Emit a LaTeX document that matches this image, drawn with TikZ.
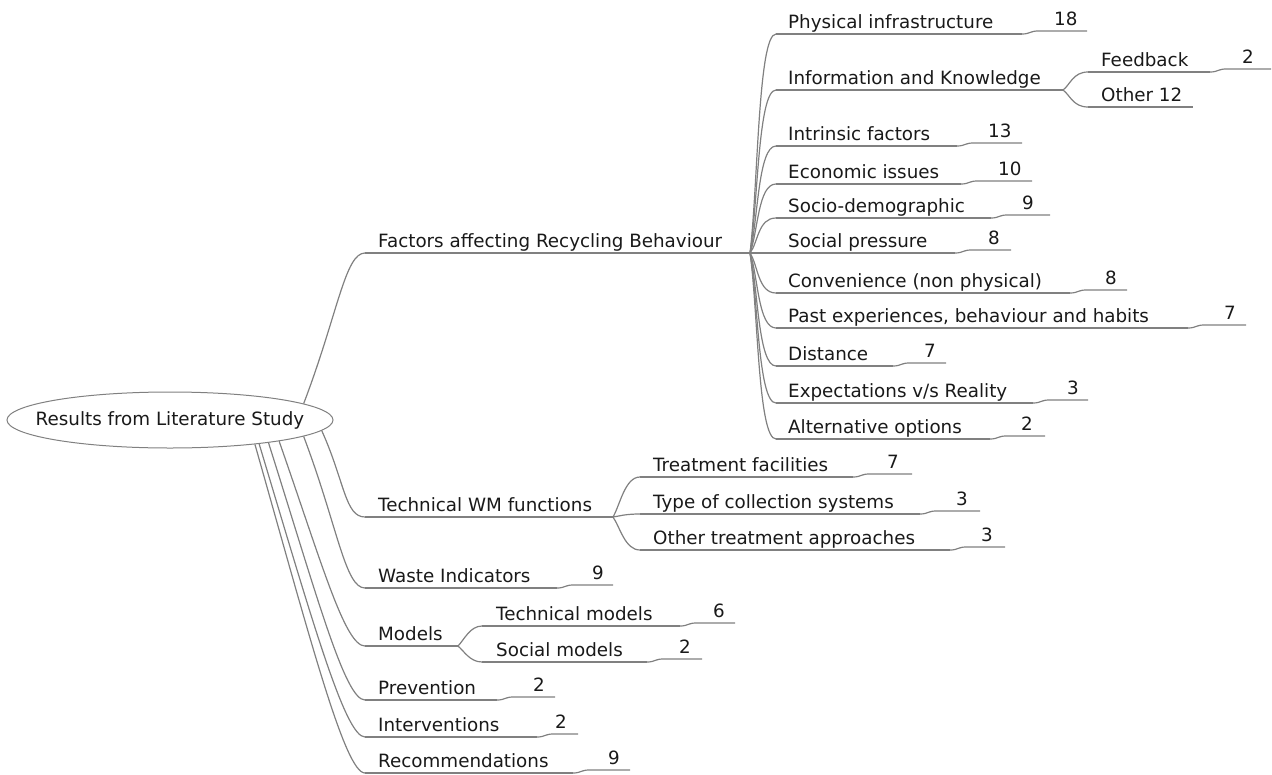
\documentclass[tikz,border=0pt]{standalone}
\usepackage{fontspec}
\setmainfont{DejaVu Sans}
\usetikzlibrary{shapes.geometric}
\definecolor{branch}{RGB}{128,128,128}
\definecolor{ink}{RGB}{25,25,25}
\tikzset{
  edge/.style={draw=branch, line width=1.2pt},
  topic/.style={anchor=base west, inner sep=0pt, text=ink, font=\fontsize{18.3}{22}\selectfont},
  rootnode/.style={ellipse, draw=branch, line width=1pt, inner sep=0pt,
    minimum width=326pt, minimum height=56pt, text=ink, font=\fontsize{18.3}{22}\selectfont},
}
% #1 name, #2 underline start x, #3 text x, #4 underline y, #5 underline end x, #6 label
\newcommand\mmtopic[6]{%
  \coordinate (#1-s) at (#2,#4);
  \coordinate (#1-e) at (#5,#4);
  \node[topic] (#1) at (#3,#4-6) {#6};
  \draw[edge] (#1-s) -- (#1-e);
}
% #1 parent name, #2 parent underline y, #3 parent end x, #4 count x, #5 line end x, #6 count
\newcommand\mmcount[6]{%
  \coordinate (#1-ns) at (#3+16,#2-3);
  \coordinate (#1-ne) at (#5,#2-3);
  \node[topic] (#1-n) at (#4,#2-9) {#6};
  \draw[edge] (#1-e) .. controls +(8,0) and +(-8,0) .. (#1-ns) -- (#1-ne);
}
% #1 from, #2 to, #3 #4 first control offset, #5 second control x offset
\newcommand\mmedge[5]{%
  \draw[edge] (#1) .. controls +(#3,#4) and +(#5,0) .. (#2);
}
\begin{document}
\begin{tikzpicture}[x=1pt,y=-1pt]
\useasboundingbox (0,0) rectangle (1272,774);

% central topic
\node[rootnode] (root) at (170,420) {\makebox[0pt]{Results from Literature Study}};

% first level
\mmtopic{fac}{365}{378}{253}{750}{Factors affecting Recycling Behaviour}
\mmtopic{tec}{365}{378}{517}{613}{Technical WM functions}
\mmtopic{was}{365}{378}{588}{557}{Waste Indicators}
\mmcount{was}{588}{557}{592}{613}{9}
\mmtopic{mod}{365}{378}{646}{458}{Models}
\mmtopic{pre}{365}{378}{700}{497}{Prevention}
\mmcount{pre}{700}{497}{533}{555}{2}
\mmtopic{int}{365}{378}{737}{537}{Interventions}
\mmcount{int}{737}{537}{555}{578}{2}
\mmtopic{rec}{365}{378}{773}{573}{Recommendations}
\mmcount{rec}{773}{573}{608}{630}{9}

\mmedge{root.7.9}{fac-s}{34}{-89}{-20}
\mmedge{root.-4.5}{tec-s}{23}{51}{-20}
\mmedge{root.-7.9}{was-s}{34}{90}{-20}
\mmedge{root.-11}{mod-s}{43}{123}{-20}
\mmedge{root.-13.1}{pre-s}{49}{155}{-20}
\mmedge{root.-15}{int-s}{53}{176}{-20}
\mmedge{root.-16.4}{rec-s}{56}{197}{-20}

% factors affecting recycling behaviour
\mmtopic{phy}{776}{788}{34}{1022}{Physical infrastructure}
\mmcount{phy}{34}{1022}{1054}{1087}{18}
\mmtopic{inf}{776}{788}{90}{1063}{Information and Knowledge}
\mmtopic{intr}{776}{788}{146}{957}{Intrinsic factors}
\mmcount{intr}{146}{957}{988}{1022}{13}
\mmtopic{eco}{776}{788}{184}{961}{Economic issues}
\mmcount{eco}{184}{961}{998}{1032}{10}
\mmtopic{soc}{776}{788}{218}{991}{Socio-demographic}
\mmcount{soc}{218}{991}{1022}{1050}{9}
\mmtopic{pres}{776}{788}{253}{955}{Social pressure}
\mmcount{pres}{253}{955}{988}{1011}{8}
\mmtopic{conv}{776}{788}{293}{1070}{Convenience (non physical)}
\mmcount{conv}{293}{1070}{1105}{1127}{8}
\mmtopic{past}{776}{788}{328}{1188}{Past experiences, behaviour and habits}
\mmcount{past}{328}{1188}{1224}{1246}{7}
\mmtopic{dist}{776}{788}{366}{893}{Distance}
\mmcount{dist}{366}{893}{924}{946}{7}
\mmtopic{expe}{776}{788}{403}{1033}{Expectations v/s Reality}
\mmcount{expe}{403}{1033}{1067}{1088}{3}
\mmtopic{alt}{776}{788}{439}{990}{Alternative options}
\mmcount{alt}{439}{990}{1021}{1045}{2}

\mmedge{fac-e}{phy-s}{8}{-66}{-18}
\mmedge{fac-e}{inf-s}{8}{-49}{-18}
\mmedge{fac-e}{intr-s}{8}{-32}{-18}
\mmedge{fac-e}{eco-s}{8}{-21}{-18}
\mmedge{fac-e}{soc-s}{8}{-10}{-18}
\mmedge{fac-e}{pres-s}{8}{0}{-18}
\mmedge{fac-e}{conv-s}{8}{12}{-18}
\mmedge{fac-e}{past-s}{8}{22}{-18}
\mmedge{fac-e}{dist-s}{8}{34}{-18}
\mmedge{fac-e}{expe-s}{8}{45}{-18}
\mmedge{fac-e}{alt-s}{8}{56}{-18}

% information and knowledge
\mmtopic{feed}{1088}{1101}{72}{1210}{Feedback}
\mmcount{feed}{72}{1210}{1242}{1271}{2}
\mmtopic{oth}{1088}{1101}{107}{1193}{Other 12}
\mmedge{inf-e}{feed-s}{7}{-5}{-15}
\mmedge{inf-e}{oth-s}{7}{5}{-15}

% technical WM functions
\mmtopic{trf}{640}{653}{477}{853}{Treatment facilities}
\mmcount{trf}{477}{853}{887}{912}{7}
\mmtopic{typ}{640}{653}{514}{920}{Type of collection systems}
\mmcount{typ}{514}{920}{956}{980}{3}
\mmtopic{otr}{640}{653}{550}{950}{Other treatment approaches}
\mmcount{otr}{550}{950}{981}{1005}{3}
\mmedge{tec-e}{trf-s}{7}{-12}{-15}
\mmedge{tec-e}{typ-s}{7}{-1}{-15}
\mmedge{tec-e}{otr-s}{7}{10}{-15}

% models
\mmtopic{tmo}{482}{496}{626}{680}{Technical models}
\mmcount{tmo}{626}{680}{713}{735}{6}
\mmtopic{smo}{482}{496}{662}{647}{Social models}
\mmcount{smo}{662}{647}{679}{702}{2}
\mmedge{mod-e}{tmo-s}{6}{-6}{-12}
\mmedge{mod-e}{smo-s}{6}{5}{-12}
\end{tikzpicture}
\end{document}
